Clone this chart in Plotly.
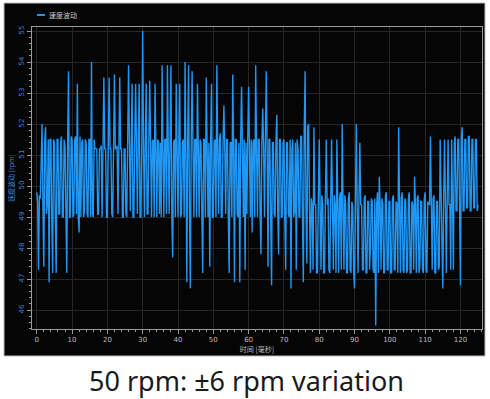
import plotly.graph_objects as go

# Speed samples (rpm), one every 0.25 s starting at t = 0
speed_rpm = [
    49.8, 49.5, 47.3, 49.7, 49.6, 51.5, 52.0, 49.2, 47.4, 51.4, 51.9, 49.1, 49.4, 51.5, 46.9, 51.5, 51.5, 49.0, 47.2, 51.5,
    51.4, 49.0, 47.2, 51.5, 51.5, 49.1, 49.1, 51.4, 51.6, 49.0, 49.0, 51.5, 51.3, 49.2, 47.2, 51.5, 53.7, 49.0, 49.0, 51.6,
    51.5, 49.0, 49.1, 51.5, 51.6, 49.1, 53.3, 49.0, 48.5, 51.6, 49.0, 51.4, 51.5, 49.0, 49.2, 51.5, 51.4, 49.1, 49.0, 51.5,
    51.5, 49.0, 54.0, 49.1, 49.0, 51.5, 51.2, 51.2, 51.2, 49.1, 49.1, 51.2, 51.2, 51.3, 49.0, 51.2, 53.5, 51.2, 51.2, 49.0,
    49.0, 51.2, 53.5, 51.2, 51.2, 49.1, 49.0, 51.2, 53.6, 51.2, 51.2, 51.3, 49.1, 51.2, 53.5, 51.2, 51.2, 49.0, 49.0, 51.2,
    51.2, 49.1, 49.0, 51.5, 53.9, 51.3, 49.2, 51.4, 53.3, 49.0, 49.0, 51.5, 53.3, 51.2, 49.1, 51.5, 53.3, 49.0, 49.0, 51.4,
    55.0, 51.2, 49.0, 51.5, 53.3, 49.1, 49.1, 51.5, 53.4, 51.2, 49.0, 51.4, 51.5, 49.0, 53.3, 51.2, 49.0, 51.5, 51.4, 49.1,
    51.4, 49.0, 53.9, 51.2, 49.0, 51.5, 51.5, 49.1, 53.9, 51.2, 49.1, 51.5, 53.9, 49.0, 47.7, 51.4, 51.5, 49.0, 53.3, 51.2,
    49.0, 51.5, 53.3, 49.0, 49.1, 51.4, 51.5, 49.0, 54.0, 51.2, 46.9, 51.5, 53.9, 49.1, 46.7, 51.5, 53.7, 51.2, 49.0, 51.5,
    51.5, 49.0, 53.3, 51.2, 49.0, 51.5, 51.4, 49.1, 47.2, 51.5, 51.5, 49.0, 53.5, 51.2, 49.0, 51.4, 47.4, 51.5, 53.3, 49.0,
    49.0, 51.4, 51.5, 49.0, 53.9, 51.2, 49.1, 51.5, 51.7, 49.0, 49.0, 51.4, 52.6, 51.2, 49.1, 51.5, 51.5, 49.0, 47.2, 51.4,
    51.4, 49.0, 53.6, 51.2, 46.9, 51.5, 51.5, 49.1, 49.0, 51.4, 46.9, 51.5, 53.2, 51.2, 49.0, 51.5, 47.3, 51.4, 49.1, 51.5,
    53.2, 51.2, 49.0, 51.5, 48.5, 51.4, 51.5, 49.0, 53.9, 51.2, 49.0, 51.5, 51.5, 49.1, 47.8, 51.4, 52.5, 51.2, 49.0, 51.5,
    53.7, 51.2, 47.4, 51.5, 51.5, 49.0, 46.8, 51.4, 51.4, 49.1, 49.0, 51.5, 52.3, 49.2, 47.8, 51.5, 51.5, 49.0, 49.0, 51.4,
    51.5, 49.0, 47.3, 51.4, 51.4, 49.1, 49.0, 51.5, 46.7, 51.2, 51.5, 49.0, 49.2, 51.4, 47.3, 51.5, 51.2, 49.0, 49.0, 51.6,
    51.6, 49.0, 46.9, 51.8, 53.7, 49.2, 47.5, 51.9, 52.0, 49.3, 47.2, 49.6, 49.4, 47.3, 51.9, 49.4, 49.4, 47.2, 47.2, 49.6,
    51.5, 49.4, 47.3, 49.7, 49.4, 47.2, 47.2, 49.6, 51.5, 49.4, 49.6, 47.3, 47.2, 49.5, 51.5, 49.4, 47.3, 49.7, 49.4, 47.2,
    51.5, 49.4, 47.2, 49.6, 49.8, 47.3, 52.0, 49.4, 47.3, 49.7, 49.4, 47.2, 47.2, 49.6, 49.8, 47.3, 47.2, 49.5, 49.3, 47.2,
    46.7, 49.4, 52.0, 49.4, 47.2, 49.6, 51.4, 49.4, 49.4, 47.3, 47.3, 49.6, 49.7, 47.2, 47.2, 49.5, 49.5, 47.3, 48.0, 49.6,
    49.5, 47.3, 47.2, 49.6, 45.5, 49.4, 49.8, 47.2, 50.3, 49.4, 47.3, 49.6, 49.4, 47.2, 47.2, 49.7, 49.8, 47.3, 47.3, 49.5,
    49.5, 47.2, 47.2, 49.6, 49.7, 47.3, 47.3, 49.5, 49.4, 47.2, 51.9, 49.4, 47.2, 49.6, 49.8, 47.3, 47.2, 49.6, 49.5, 47.2,
    47.3, 49.6, 49.8, 47.2, 47.2, 49.5, 49.4, 47.3, 50.3, 49.4, 47.2, 49.6, 49.7, 47.2, 47.4, 49.5, 49.5, 47.3, 47.2, 49.6,
    49.8, 47.3, 47.2, 49.5, 49.4, 49.4, 51.6, 49.4, 47.3, 49.6, 49.7, 47.2, 47.2, 49.5, 49.5, 47.3, 47.4, 51.5, 49.8, 47.2,
    46.7, 49.6, 51.5, 49.4, 47.2, 49.6, 51.5, 49.4, 49.4, 47.3, 51.5, 49.5, 47.3, 51.4, 51.6, 49.2, 49.2, 51.5, 51.5, 49.3,
    46.8, 51.5, 51.9, 49.2, 49.2, 51.5, 51.5, 49.3, 49.3, 51.6, 51.6, 49.2, 49.2, 51.5, 51.5, 49.3, 49.3, 51.5, 51.5, 49.2, 49.4,
]
series_name = "速度波动"
x_title = "时间 [毫秒]"
y_title = "速度波动 [rpm]"
caption = "50 rpm: ±6 rpm variation"

LINE = "#2196f3"
CJK = "Noto Sans CJK SC"
PW, PH = 450, 302  # plot area size in px

fig = go.Figure()
fig.add_trace(go.Scatter(
    y=speed_rpm, x0=0, dx=0.25, mode="lines", name=series_name,
    line=dict(color=LINE, width=1.4), showlegend=False,
))

# black panel behind the chart
fig.add_shape(type="rect", xref="paper", yref="paper", layer="below",
              x0=-28 / PW, x1=1 + 3 / PW, y0=-27 / PH, y1=1 + 24 / PH,
              fillcolor="#050505", line=dict(color="#bdbdbd", width=1))
# legend sample
fig.add_shape(type="line", xref="paper", yref="paper",
              x0=5 / PW, x1=13 / PW, y0=1 + 12 / PH, y1=1 + 12 / PH,
              line=dict(color=LINE, width=2))
fig.add_annotation(text=series_name, xref="paper", yref="paper",
                   x=15 / PW, y=1 + 12 / PH, xanchor="left", yanchor="middle",
                   showarrow=False, font=dict(family=CJK, size=7, color="#d0d0d0"))
fig.add_annotation(text=caption, xref="paper", yref="paper",
                   x=(246 - 32) / PW, y=-(380 - 329) / PH, xanchor="center",
                   yanchor="middle", showarrow=False,
                   font=dict(family="Noto Sans", size=27, color="#1a1a1a"))

fig.update_layout(
    width=490, height=399,
    margin=dict(l=32, r=8, t=27, b=70, autoexpand=False),
    paper_bgcolor="white", plot_bgcolor="#050505",
    showlegend=False,
)
fig.update_xaxes(
    range=[-1.35, 126.1], dtick=10, tick0=0, automargin=False,
    showgrid=True, gridcolor="#262626", gridwidth=1,
    showline=True, linecolor="#9a9a9a", mirror=True,
    ticks="outside", ticklen=4, tickcolor="#9a9a9a",
    minor=dict(dtick=2, ticks="outside", ticklen=2, tickcolor="#9a9a9a", showgrid=False),
    tickfont=dict(family="DejaVu Sans", size=7, color="#bdbdbd"),
    title=dict(text=x_title, font=dict(family=CJK, size=7, color="#bdbdbd"), standoff=2),
    zeroline=False,
)
fig.update_yaxes(
    range=[45.39, 55.13], dtick=1, tick0=45, automargin=False,
    showgrid=True, gridcolor="#262626", gridwidth=1,
    showline=True, linecolor="#9a9a9a", mirror=True,
    ticks="outside", ticklen=4, tickcolor="#9a9a9a",
    minor=dict(dtick=0.2, ticks="outside", ticklen=2, tickcolor="#9a9a9a", showgrid=False),
    tickangle=-90,
    tickfont=dict(family="DejaVu Sans", size=7, color="#3f82d8"),
    title=dict(text=y_title, font=dict(family=CJK, size=7, color="#3f82d8"), standoff=2),
    zeroline=False,
)

fig.write_html("out.html", config={"displayModeBar": False},
               post_script="document.body.style.margin='0';")
